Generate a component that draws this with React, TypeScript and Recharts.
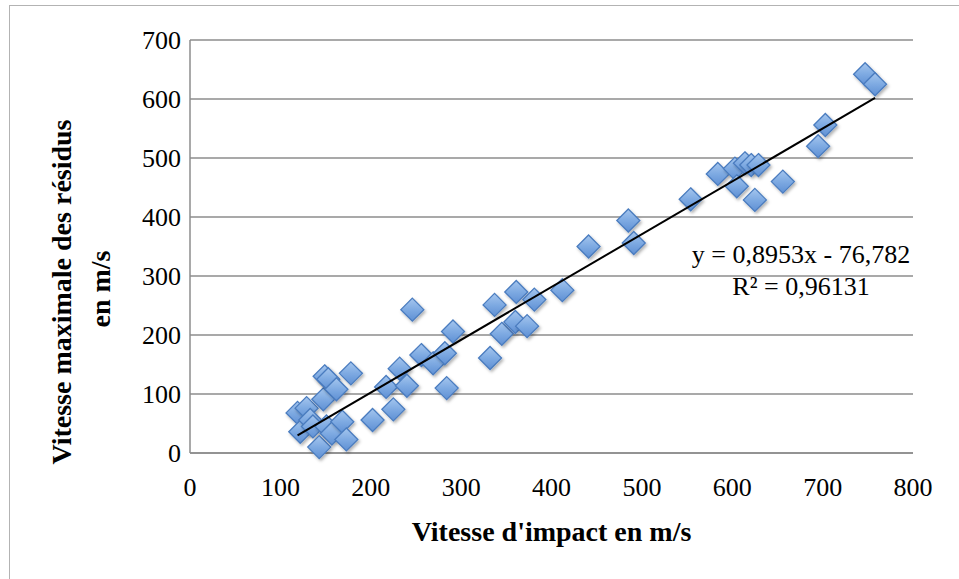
import { ScatterChart, Scatter, XAxis, YAxis, CartesianGrid } from "recharts";

// Vitesse d'impact (m/s)
const impactSpeeds = [
  119, 122, 129, 133, 136, 143, 147.5, 149, 151, 153, 157, 162, 168.5, 173, 178,
  202, 217, 225, 232, 240, 246, 256, 269, 282, 284, 291, 332, 337, 345, 360, 361,
  373, 381, 412, 441, 485, 491, 554, 584, 603, 605, 614, 621, 629, 625, 656, 695,
  703, 747, 758,
];

// Vitesse maximale des résidus (m/s)
const residualSpeeds = [
  68, 36, 76, 56, 45, 10, 91, 130, 45, 125, 33, 108, 53, 23, 135,
  56, 112, 74, 143, 114, 243, 166, 152, 169, 110, 206, 161, 251, 202, 222, 273,
  215, 260, 276, 350, 394, 356, 430, 473, 482, 452, 491, 488, 488, 429, 460, 520,
  556, 642, 625,
];

const xTicks = [0, 100, 200, 300, 400, 500, 600, 700, 800];
const yTicks = [0, 100, 200, 300, 400, 500, 600, 700];

// regression reported on the chart
const SLOPE = 0.8953;
const INTERCEPT = -76.782;
const eqLabel = "y = 0,8953x - 76,782";
const r2Label = "R² = 0,96131";

const points = impactSpeeds.map((x, i) => ({ x, y: residualSpeeds[i] }));
const xMin = Math.min(...impactSpeeds);
const xMax = Math.max(...impactSpeeds);
const trend = [
  { x: xMin, y: SLOPE * xMin + INTERCEPT },
  { x: xMax, y: SLOPE * xMax + INTERCEPT },
];

const FONT = "'Liberation Serif', 'DejaVu Serif', serif";

function Diamond(props: any) {
  const { cx, cy } = props;
  if (cx == null || cy == null) return null;
  const r = 11.5;
  return (
    <polygon
      points={`${cx},${cy - r} ${cx + r},${cy} ${cx},${cy + r} ${cx - r},${cy}`}
      fill="url(#diamondFill)"
      stroke="#4a7cbf"
      strokeWidth={1.3}
      filter="url(#diamondShadow)"
    />
  );
}

function XTitle(props: any) {
  const { viewBox } = props;
  const cx = viewBox.x + viewBox.width / 2;
  return (
    <text x={cx} y={531} textAnchor="middle" dominantBaseline="central" fontFamily={FONT} fontWeight="bold" fontSize={28} fill="#000">
      Vitesse d'impact en m/s
    </text>
  );
}

function YTitle() {
  return (
    <g fontFamily={FONT} fontWeight="bold" fontSize={28} fill="#000">
      <text x={61} y={292} transform="rotate(-90 61 292)" textAnchor="middle" dominantBaseline="central">
        Vitesse maximale des résidus
      </text>
      <text x={100} y={289} transform="rotate(-90 100 289)" textAnchor="middle" dominantBaseline="central">
        en m/s
      </text>
    </g>
  );
}

export default function App() {
  return (
    <div style={{ position: "absolute", left: 0, top: 0, width: 959, height: 579, overflow: "hidden", background: "#fff" }}>
      <svg width={0} height={0} style={{ position: "absolute" }}>
        <defs>
          <linearGradient id="diamondFill" x1="0" y1="0" x2="0" y2="1">
            <stop offset="0%" stopColor="#a5c6ee" />
            <stop offset="50%" stopColor="#7eaae2" />
            <stop offset="100%" stopColor="#5f90d4" />
          </linearGradient>
          <filter id="diamondShadow" x="-50%" y="-50%" width="200%" height="200%">
            <feDropShadow dx="1.5" dy="2" stdDeviation="1.5" floodColor="#000" floodOpacity="0.3" />
          </filter>
        </defs>
      </svg>
      <div style={{ position: "absolute", left: 9, top: 5, width: 1000, height: 1000, borderTop: "1.5px solid #b3b3b3", borderLeft: "1.5px solid #b3b3b3" }} />
      <div style={{ position: "absolute", left: 0, top: 0 }}>
        <ScatterChart width={959} height={579} margin={{ top: 40, right: 46, bottom: 66, left: 90 }}>
          <CartesianGrid vertical={false} stroke="#8c8c8c" strokeWidth={1.5} />
          <XAxis
            type="number"
            dataKey="x"
            domain={[0, 800]}
            ticks={xTicks}
            height={60}
            tickLine={false}
            tickSize={0}
            tickMargin={25}
            axisLine={{ stroke: "#8c8c8c", strokeWidth: 1.5 }}
            tick={{ fill: "#000", fontSize: 26, fontFamily: FONT }}
            label={<XTitle />}
          />
          <YAxis
            type="number"
            dataKey="y"
            domain={[0, 700]}
            ticks={yTicks}
            width={100}
            tickLine={false}
            tickSize={0}
            tickMargin={9}
            axisLine={{ stroke: "#8c8c8c", strokeWidth: 1.5 }}
            tick={{ fill: "#000", fontSize: 26, fontFamily: FONT }}
            label={<YTitle />}
          />
          <Scatter data={points} shape={<Diamond />} isAnimationActive={false} />
          <Scatter
            data={trend}
            line={{ stroke: "#000", strokeWidth: 2 }}
            shape={() => <g />}
            isAnimationActive={false}
          />
        </ScatterChart>
      </div>
      <svg width={959} height={579} style={{ position: "absolute", left: 0, top: 0, pointerEvents: "none" }}>
        <g fontFamily={FONT} fontSize={26} fill="#000" textAnchor="middle">
          <text x={801} y={263}>{eqLabel}</text>
          <text x={801} y={295}>{r2Label}</text>
        </g>
      </svg>
    </div>
  );
}
